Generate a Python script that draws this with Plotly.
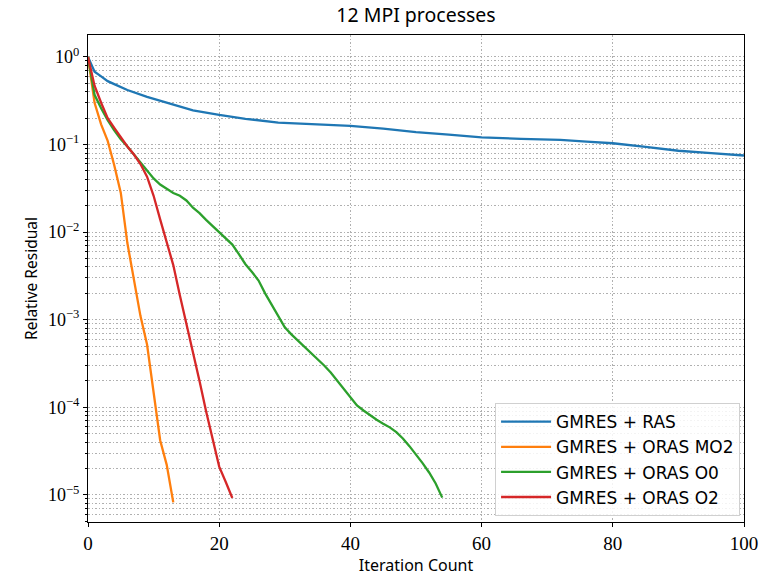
import plotly.graph_objects as go

# Convergence histories: relative residual per GMRES iteration
ras_iter = [0, 1, 2, 3, 4, 6, 9, 12, 16, 20, 24, 29, 35, 40, 45, 50, 55, 60, 66, 72, 76, 80, 85, 90, 95, 100]
ras_res = [1.0, 0.68, 0.6, 0.53, 0.49, 0.42, 0.35, 0.30, 0.245, 0.218, 0.197, 0.178, 0.168, 0.163, 0.152, 0.139, 0.13, 0.121, 0.116, 0.113, 0.108, 0.1035, 0.094, 0.085, 0.08, 0.075]

mo2_iter = list(range(0, 14))
mo2_res = [1.0, 0.3, 0.17, 0.11, 0.058, 0.028, 0.0075, 0.0029, 0.0011, 0.00052, 0.00014, 4.2e-05, 2.2e-05, 8.2e-06]

o0_iter = list(range(0, 55))
o0_res = [1.0, 0.37, 0.26, 0.19, 0.145, 0.115, 0.095, 0.077, 0.062, 0.05, 0.041, 0.035,
          0.031, 0.028, 0.026, 0.023, 0.019, 0.0165, 0.0138, 0.0118, 0.0100, 0.0086,
          0.0072, 0.0056, 0.0043, 0.0035, 0.0028, 0.0020, 0.0015, 0.0011, 0.00082,
          0.00068, 0.00058, 0.00049, 0.00042, 0.00036, 0.00030, 0.00025, 0.00020,
          0.00016, 0.000128, 0.000105, 9.2e-05, 8.1e-05, 7.2e-05, 6.5e-05, 5.9e-05,
          5.2e-05, 4.4e-05, 3.6e-05, 2.9e-05, 2.3e-05, 1.8e-05, 1.35e-05, 9.3e-06]

o2_iter = list(range(0, 23))
o2_res = [1.0, 0.47, 0.3, 0.2, 0.155, 0.12, 0.095, 0.077, 0.06, 0.043, 0.026, 0.014,
          0.0078, 0.0042, 0.0019, 0.0009, 0.00045, 0.0002, 9e-05, 4.2e-05, 2.1e-05,
          1.4e-05, 9.2e-06]

series_names = ["GMRES + RAS", "GMRES + ORAS MO2", "GMRES + ORAS O0", "GMRES + ORAS O2"]
series_colors = ["#1f77b4", "#ff7f0e", "#2ca02c", "#d62728"]

x_ticks = [0, 20, 40, 60, 80, 100]
y_decades = [0, -1, -2, -3, -4, -5]

SERIF = "Liberation Serif, DejaVu Serif, serif"
SANS = "Noto Sans, DejaVu Sans, sans-serif"
LEGEND_FONT = "DejaVu Sans, Noto Sans, sans-serif"

fig = go.Figure()
for name, color, xs, ys in zip(series_names, series_colors,
                               [ras_iter, mo2_iter, o0_iter, o2_iter],
                               [ras_res, mo2_res, o0_res, o2_res]):
    fig.add_trace(go.Scatter(x=xs, y=ys, mode="lines", name=name,
                             line=dict(color=color, width=2.3)))

y_major = [10.0 ** d for d in y_decades]
y_text = ["10<sup>%s</sup>" % (str(d).replace("-", "\u2212")) for d in y_decades]
y_minor = [m * 10.0 ** d for d in range(-6, 1) for m in range(2, 10)]

grid_col = "#b0b0b0"
grid_dash = "1.5px,2px"

fig.update_layout(
    width=759, height=579,
    margin=dict(l=88, r=15, t=35, b=57),
    paper_bgcolor="white", plot_bgcolor="white",
    title=dict(text="12 MPI processes", x=0.5, xref="paper", y=1 - 15 / 579,
               yanchor="middle", font=dict(family=SANS, size=19.5, color="black")),
    showlegend=True,
    legend=dict(x=0.994, y=0.012, xanchor="right", yanchor="bottom",
                bgcolor="rgba(255,255,255,0.85)", bordercolor="#d0d0d0", borderwidth=1,
                font=dict(family=LEGEND_FONT, size=17, color="black"),
                itemwidth=50, tracegroupgap=0),
    xaxis=dict(
        range=[0, 100], tickvals=x_ticks, ticks="outside", ticklen=4, tickwidth=1,
        tickcolor="black", showline=True, linecolor="black", linewidth=1.2, mirror=True,
        showgrid=True, gridcolor=grid_col, griddash=grid_dash, gridwidth=1, zeroline=False,
        automargin=False,
        tickfont=dict(family=SERIF, size=19, color="black"),
        title=dict(text="Iteration Count", font=dict(family=SANS, size=16, color="black"),
                   standoff=4),
    ),
    yaxis=dict(
        type="log", range=[-5.31, 0.251], tickvals=y_major, ticktext=y_text,
        ticks="outside", ticklen=4, tickwidth=1, tickcolor="black",
        showline=True, linecolor="black", linewidth=1.2, mirror=True,
        showgrid=True, gridcolor=grid_col, griddash=grid_dash, gridwidth=1, zeroline=False,
        automargin=False,
        tickfont=dict(family=SERIF, size=18, color="black"),
        minor=dict(tickvals=y_minor, ticks="outside", ticklen=2, tickcolor="black",
                   showgrid=True, gridcolor=grid_col, griddash=grid_dash, gridwidth=1),
        title=dict(text="Relative Residual", font=dict(family=SANS, size=15.5, color="black"),
                   standoff=6),
    ),
)

fig.write_html("out.html")
